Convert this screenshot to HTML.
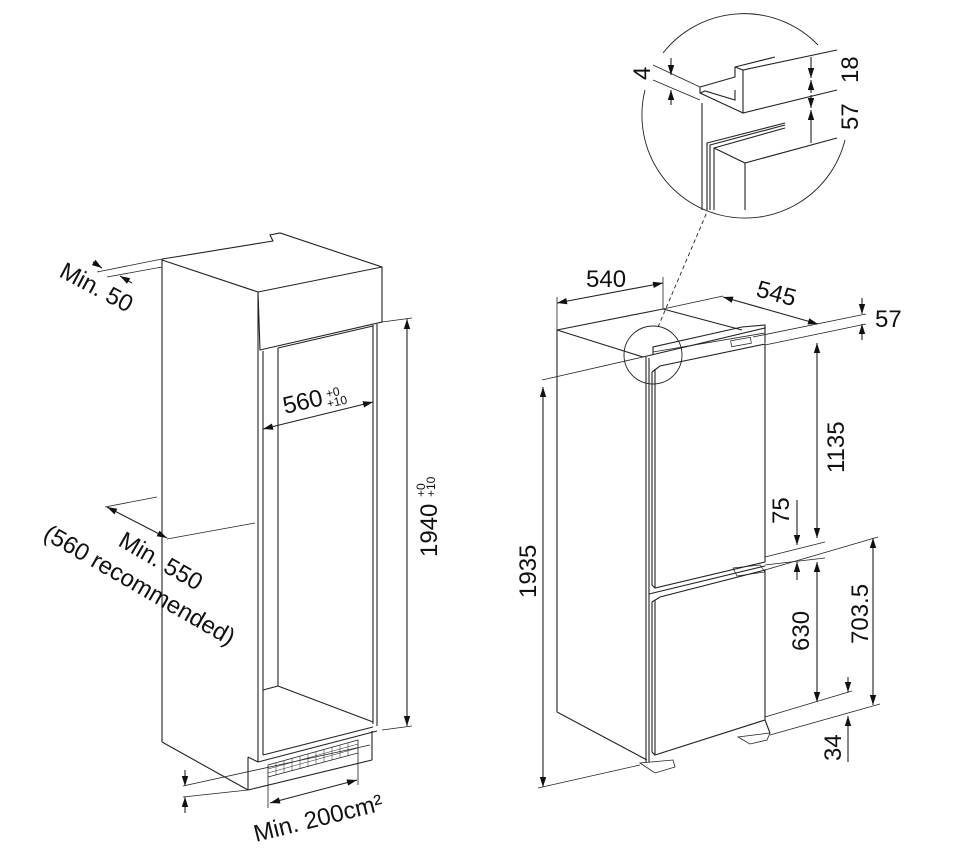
<!DOCTYPE html>
<html><head><meta charset="utf-8"><style>
html,body{margin:0;padding:0;background:#fff}
svg{display:block}
text{font-family:"Liberation Sans",Arial,sans-serif;fill:#111}
</style></head><body>
<svg width="954" height="860" viewBox="0 0 954 860" xmlns="http://www.w3.org/2000/svg">
<defs>
<marker id="a" viewBox="0 0 10 10" refX="10" refY="5" markerWidth="12" markerHeight="10" orient="auto-start-reverse" markerUnits="userSpaceOnUse"><path d="M0,1.8 L10,5 L0,8.2 z" fill="#111"/></marker>
</defs>
<g stroke="#222" stroke-width="1.1" fill="none">
<!-- LEFT CABINET -->
<line x1="162" y1="259" x2="162" y2="742"/>
<polyline points="162,259 175,257 273,241 270,235 280,233 382,267"/>
<line x1="162" y1="260" x2="258" y2="292"/>
<polygon points="258,292 382,267 382,322 260,350"/>
<line x1="258" y1="292" x2="258" y2="762"/>
<line x1="263" y1="351" x2="263" y2="755"/>
<line x1="278" y1="348" x2="278" y2="686"/>
<line x1="278" y1="348" x2="373" y2="326"/>
<line x1="373" y1="325" x2="373" y2="724"/>
<line x1="377" y1="324" x2="377" y2="726"/>
<line x1="263" y1="690" x2="278" y2="686"/>
<line x1="278" y1="686" x2="373" y2="722"/>
<line x1="263" y1="755" x2="373" y2="727"/>
<line x1="258" y1="762" x2="377" y2="731"/>
<line x1="162" y1="742" x2="248" y2="790"/>
<line x1="248" y1="757" x2="258" y2="762"/>
<line x1="248" y1="757" x2="248" y2="790"/>
<line x1="248" y1="790" x2="372" y2="760"/>
<line x1="372" y1="731" x2="372" y2="760"/>
<!-- grille -->
<polygon points="268,765 358,740 358,753 268,777" stroke-width="0.8"/>
<g stroke-width="0.5">
<line x1="268" y1="769" x2="358" y2="744"/><line x1="268" y1="773" x2="358" y2="748"/>
<line x1="276" y1="763" x2="276" y2="775"/><line x1="284" y1="761" x2="284" y2="773"/><line x1="292" y1="758" x2="292" y2="771"/><line x1="300" y1="756" x2="300" y2="769"/><line x1="308" y1="754" x2="308" y2="767"/><line x1="316" y1="752" x2="316" y2="764"/><line x1="324" y1="749" x2="324" y2="762"/><line x1="332" y1="747" x2="332" y2="760"/><line x1="340" y1="745" x2="340" y2="758"/><line x1="348" y1="743" x2="348" y2="756"/>
</g>
<!-- Min 50 -->
<line x1="97" y1="272" x2="162" y2="259" stroke-width="0.8"/>
<line x1="107" y1="277" x2="162" y2="267" stroke-width="0.8"/>
<line x1="93" y1="262" x2="102" y2="268" marker-end="url(#a)"/>
<line x1="132" y1="283" x2="120" y2="276" marker-end="url(#a)"/>
<!-- Min 550 -->
<line x1="105" y1="507" x2="157" y2="497" stroke-width="0.8"/>
<line x1="167" y1="539" x2="255" y2="523" stroke-width="0.8"/>
<line x1="107" y1="507" x2="167" y2="538" marker-start="url(#a)" marker-end="url(#a)"/>
<!-- 560 -->
<line x1="263" y1="429" x2="373" y2="402" marker-start="url(#a)" marker-end="url(#a)"/>
<!-- 1940 -->
<line x1="382" y1="322" x2="412" y2="318" stroke-width="0.8"/>
<line x1="382" y1="730" x2="412" y2="726" stroke-width="0.8"/>
<line x1="407" y1="319" x2="407" y2="726" marker-start="url(#a)" marker-end="url(#a)"/>
<!-- bottom dims -->
<line x1="183" y1="786" x2="370" y2="745" stroke-width="0.8"/>
<line x1="183" y1="797" x2="248" y2="790" stroke-width="0.8"/>
<line x1="185" y1="770" x2="185" y2="786" marker-end="url(#a)"/>
<line x1="185" y1="813" x2="185" y2="797" marker-end="url(#a)"/>
<line x1="268" y1="777" x2="268" y2="808" stroke-width="0.8"/>
<line x1="358" y1="753" x2="358" y2="785" stroke-width="0.8"/>
<line x1="270" y1="803" x2="357" y2="780" marker-start="url(#a)" marker-end="url(#a)"/>

<!-- RIGHT FRIDGE -->
<line x1="557" y1="330" x2="557" y2="712"/>
<line x1="557" y1="330" x2="663" y2="309"/>
<line x1="663" y1="309" x2="742" y2="330"/>
<line x1="663" y1="309" x2="723" y2="296" stroke-width="0.8"/>
<line x1="557" y1="330" x2="643" y2="357"/>
<line x1="557" y1="712" x2="647" y2="760"/>
<line x1="646" y1="357" x2="646" y2="762"/>
<line x1="649" y1="358" x2="649" y2="762"/>
<!-- top strip -->
<polyline points="643,357 765,328 765,343"/>
<polyline points="653,355 653,347 742,327 765,325 765,330"/>
<line x1="653" y1="352" x2="765" y2="333" stroke-width="0.8"/>
<rect x="731" y="339" width="20" height="6" transform="rotate(-10 741 342)" stroke-width="0.7"/>
<!-- upper door -->
<polyline points="652,372 660,366 765,344 765,562 655,588 652,585 652,372"/>
<line x1="655" y1="369" x2="655" y2="588"/>
<!-- lower door -->
<polyline points="652,602 660,597 765,570 765,720 655,755 652,752 652,602"/>
<line x1="655" y1="600" x2="655" y2="755"/>
<polyline points="649,594 765,566"/>
<polygon points="733,568 760,565 765,572 737,576" stroke-width="0.7"/>
<!-- feet -->
<polygon points="640,763 673,760 675,767 655,773" stroke-width="0.8"/>
<polygon points="738,737 770,733 767,740 750,744" stroke-width="0.8"/>
<line x1="765" y1="720" x2="770" y2="733"/>
<!-- 540 -->
<line x1="557" y1="297" x2="557" y2="330" stroke-width="0.8"/>
<line x1="663" y1="277" x2="663" y2="309" stroke-width="0.8"/>
<line x1="557" y1="303" x2="663" y2="283" marker-start="url(#a)" marker-end="url(#a)"/>
<!-- 545 -->
<line x1="723" y1="297" x2="818" y2="324" marker-start="url(#a)" marker-end="url(#a)"/>
<!-- 57 -->
<line x1="753" y1="337" x2="866" y2="314" stroke-width="0.8"/>
<line x1="765" y1="345" x2="866" y2="324" stroke-width="0.8"/>
<line x1="862" y1="298" x2="862" y2="314" marker-end="url(#a)"/>
<line x1="862" y1="340" x2="862" y2="324" marker-end="url(#a)"/>
<!-- 1135 -->
<line x1="817" y1="343" x2="817" y2="538" marker-start="url(#a)" marker-end="url(#a)"/>
<line x1="765" y1="557" x2="825" y2="542" stroke-width="0.8"/>
<line x1="765" y1="565" x2="825" y2="558" stroke-width="0.8"/>
<!-- 75 -->
<line x1="797" y1="500" x2="797" y2="545" marker-end="url(#a)"/>
<line x1="797" y1="580" x2="797" y2="562" marker-end="url(#a)"/>
<!-- 703.5 -->
<line x1="765" y1="570" x2="878" y2="537" stroke-width="0.8"/>
<line x1="873" y1="538" x2="873" y2="705" marker-start="url(#a)" marker-end="url(#a)"/>
<!-- 630 -->
<line x1="817" y1="562" x2="817" y2="702" marker-start="url(#a)" marker-end="url(#a)"/>
<line x1="765" y1="717" x2="852" y2="691" stroke-width="0.8"/>
<line x1="770" y1="735" x2="880" y2="704" stroke-width="0.8"/>
<!-- 34 -->
<line x1="848" y1="677" x2="848" y2="692" marker-end="url(#a)"/>
<line x1="848" y1="762" x2="848" y2="716" marker-end="url(#a)"/>
<!-- 1935 -->
<line x1="542" y1="380" x2="643" y2="357" stroke-width="0.8"/>
<line x1="538" y1="788" x2="640" y2="765" stroke-width="0.8"/>
<line x1="543" y1="387" x2="543" y2="787" marker-start="url(#a)" marker-end="url(#a)"/>
<!-- circle -->
<circle cx="653" cy="355" r="29" stroke-width="0.9"/>
<line x1="658" y1="327" x2="707" y2="212" stroke-dasharray="4,3" stroke-width="0.9"/>

<!-- DETAIL -->
<path d="M663,53 A103,103 0 0 1 818,45" stroke-width="0.9"/>
<path d="M845,140 A103,103 0 0 1 645,90" stroke-width="0.9"/>
<line x1="653" y1="65" x2="700" y2="87" stroke-width="0.9"/>
<line x1="653" y1="80" x2="700" y2="100" stroke-width="0.9"/>
<polyline points="700,87 735,77 735,67 775,57"/>
<polyline points="735,67 743,70 837,50"/>
<polyline points="743,70 743,113 837,90"/>
<polyline points="700,87 700,93 743,113"/>
<polyline points="700,93 705,91 735,100 735,90"/>
<line x1="702" y1="103" x2="702" y2="210"/>
<polyline points="707,210 707,143 785,123"/>
<polyline points="710,210 710,145 785,125"/>
<polyline points="714,210 714,148 785,128"/>
<polyline points="714,148 745,163 837,138"/>
<line x1="745" y1="163" x2="745" y2="210"/>
<line x1="811" y1="57" x2="811" y2="78" marker-end="url(#a)"/>
<line x1="811" y1="93" x2="811" y2="80" marker-end="url(#a)"/>
<line x1="811" y1="95" x2="811" y2="108" marker-end="url(#a)"/>
<line x1="811" y1="143" x2="811" y2="110" marker-end="url(#a)"/>
<line x1="671" y1="58" x2="671" y2="75" marker-end="url(#a)"/>
<line x1="671" y1="105" x2="671" y2="90" marker-end="url(#a)"/>
</g>
<g font-size="24">
<text transform="translate(58,276) rotate(28)">Min. 50</text>
<text transform="translate(117,545) rotate(30)">Min. 550</text>
<text transform="translate(42,538) rotate(30)">(560 recommended)</text>
<text x="285" y="414" transform="rotate(-13 285 414)">560</text>
<text x="327" y="398" font-size="12" transform="rotate(-13 327 398)">+0</text>
<text x="328" y="408" font-size="12" transform="rotate(-13 328 408)">+10</text>
<text transform="translate(437,557) rotate(-90)">1940</text>
<text transform="translate(425,497) rotate(-90)" font-size="12">+0</text>
<text transform="translate(435,497) rotate(-90)" font-size="12">+10</text>
<text transform="translate(256,842) rotate(-14)">Min. 200cm²</text>
<text x="586" y="287">540</text>
<text transform="translate(755,296) rotate(15)">545</text>
<text x="875" y="327">57</text>
<text transform="translate(844,473) rotate(-90)">1135</text>
<text transform="translate(789,524) rotate(-90)">75</text>
<text transform="translate(868,644) rotate(-90)">703.5</text>
<text transform="translate(809,651) rotate(-90)">630</text>
<text transform="translate(841,761) rotate(-90)">34</text>
<text transform="translate(536,598) rotate(-90)">1935</text>
<text transform="translate(858,83) rotate(-90)">18</text>
<text transform="translate(858,130) rotate(-90)">57</text>
<text transform="translate(650,80) rotate(-90)">4</text>
</g>
</svg>
</body></html>
